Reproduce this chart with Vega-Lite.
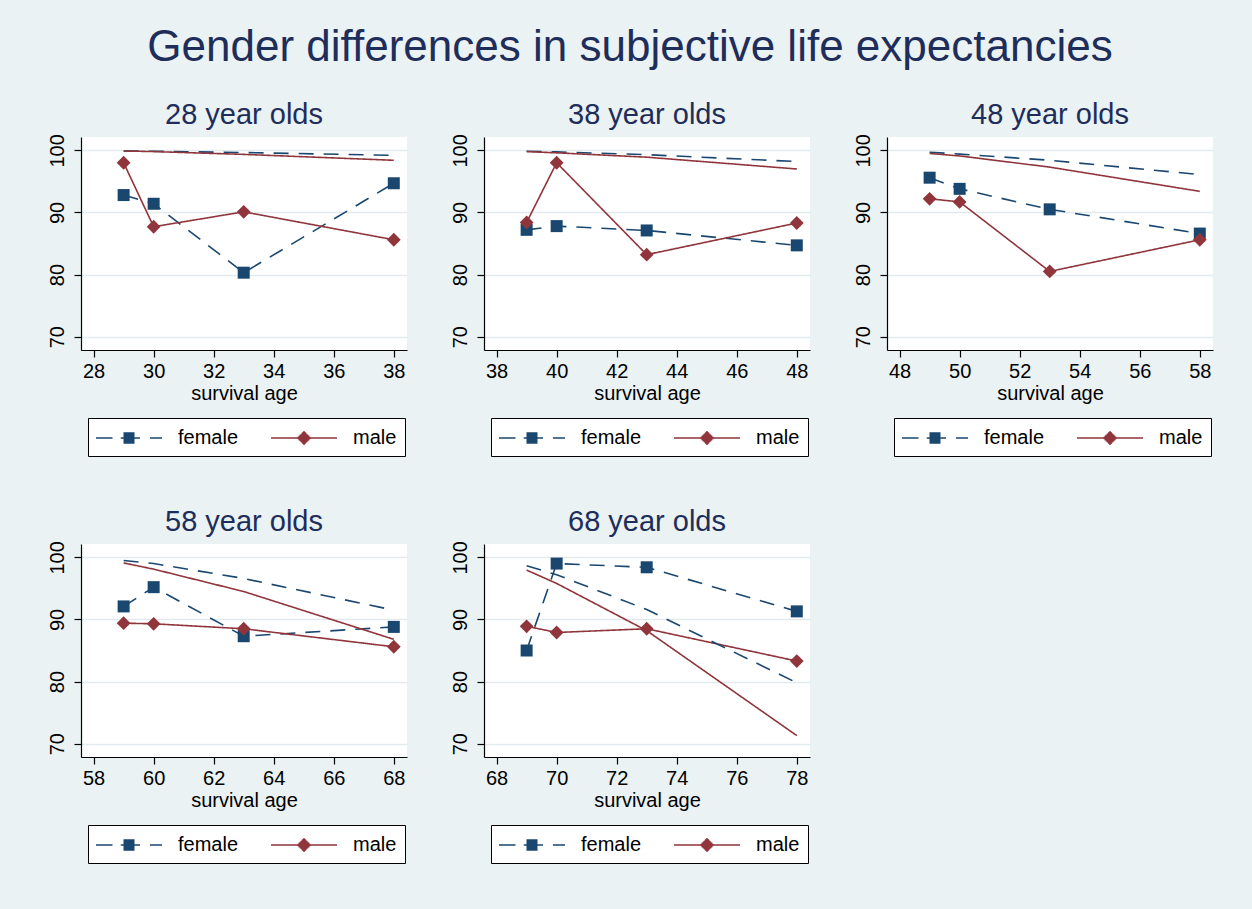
{
  "$schema": "https://vega.github.io/schema/vega-lite/v6.json",
  "padding": {"left": 47, "top": 25, "right": 39, "bottom": 46},
  "title": {"text": "Gender differences in subjective life expectancies", "fontSize": 44, "frame": "bounds", "offset": 31, "anchor": "middle"},
  "data": {"values": [
    {"c": 28, "age": 29, "sex": "female", "type": "s", "v": 92.8},
    {"c": 28, "age": 30, "sex": "female", "type": "s", "v": 91.4},
    {"c": 28, "age": 33, "sex": "female", "type": "s", "v": 80.3},
    {"c": 28, "age": 38, "sex": "female", "type": "s", "v": 94.7},
    {"c": 28, "age": 29, "sex": "male", "type": "s", "v": 98.0},
    {"c": 28, "age": 30, "sex": "male", "type": "s", "v": 87.7},
    {"c": 28, "age": 33, "sex": "male", "type": "s", "v": 90.1},
    {"c": 28, "age": 38, "sex": "male", "type": "s", "v": 85.6},
    {"c": 28, "age": 29, "sex": "female", "type": "lt", "v": 99.9},
    {"c": 28, "age": 30, "sex": "female", "type": "lt", "v": 99.85},
    {"c": 28, "age": 33, "sex": "female", "type": "lt", "v": 99.65},
    {"c": 28, "age": 38, "sex": "female", "type": "lt", "v": 99.2},
    {"c": 28, "age": 29, "sex": "male", "type": "lt", "v": 99.9},
    {"c": 28, "age": 30, "sex": "male", "type": "lt", "v": 99.8},
    {"c": 28, "age": 33, "sex": "male", "type": "lt", "v": 99.35},
    {"c": 28, "age": 38, "sex": "male", "type": "lt", "v": 98.4},
    {"c": 38, "age": 39, "sex": "female", "type": "s", "v": 87.2},
    {"c": 38, "age": 40, "sex": "female", "type": "s", "v": 87.8},
    {"c": 38, "age": 43, "sex": "female", "type": "s", "v": 87.1},
    {"c": 38, "age": 48, "sex": "female", "type": "s", "v": 84.7},
    {"c": 38, "age": 39, "sex": "male", "type": "s", "v": 88.4},
    {"c": 38, "age": 40, "sex": "male", "type": "s", "v": 98.0},
    {"c": 38, "age": 43, "sex": "male", "type": "s", "v": 83.2},
    {"c": 38, "age": 48, "sex": "male", "type": "s", "v": 88.3},
    {"c": 38, "age": 39, "sex": "female", "type": "lt", "v": 99.85},
    {"c": 38, "age": 40, "sex": "female", "type": "lt", "v": 99.75},
    {"c": 38, "age": 43, "sex": "female", "type": "lt", "v": 99.3},
    {"c": 38, "age": 48, "sex": "female", "type": "lt", "v": 98.2},
    {"c": 38, "age": 39, "sex": "male", "type": "lt", "v": 99.8},
    {"c": 38, "age": 40, "sex": "male", "type": "lt", "v": 99.6},
    {"c": 38, "age": 43, "sex": "male", "type": "lt", "v": 98.9},
    {"c": 38, "age": 48, "sex": "male", "type": "lt", "v": 97.0},
    {"c": 48, "age": 49, "sex": "female", "type": "s", "v": 95.6},
    {"c": 48, "age": 50, "sex": "female", "type": "s", "v": 93.8},
    {"c": 48, "age": 53, "sex": "female", "type": "s", "v": 90.5},
    {"c": 48, "age": 58, "sex": "female", "type": "s", "v": 86.6},
    {"c": 48, "age": 49, "sex": "male", "type": "s", "v": 92.2},
    {"c": 48, "age": 50, "sex": "male", "type": "s", "v": 91.7},
    {"c": 48, "age": 53, "sex": "male", "type": "s", "v": 80.5},
    {"c": 48, "age": 58, "sex": "male", "type": "s", "v": 85.6},
    {"c": 48, "age": 49, "sex": "female", "type": "lt", "v": 99.7},
    {"c": 48, "age": 50, "sex": "female", "type": "lt", "v": 99.4},
    {"c": 48, "age": 53, "sex": "female", "type": "lt", "v": 98.4},
    {"c": 48, "age": 58, "sex": "female", "type": "lt", "v": 96.1},
    {"c": 48, "age": 49, "sex": "male", "type": "lt", "v": 99.5},
    {"c": 48, "age": 50, "sex": "male", "type": "lt", "v": 99.1},
    {"c": 48, "age": 53, "sex": "male", "type": "lt", "v": 97.3},
    {"c": 48, "age": 58, "sex": "male", "type": "lt", "v": 93.4},
    {"c": 58, "age": 59, "sex": "female", "type": "s", "v": 92.1},
    {"c": 58, "age": 60, "sex": "female", "type": "s", "v": 95.2},
    {"c": 58, "age": 63, "sex": "female", "type": "s", "v": 87.3},
    {"c": 58, "age": 68, "sex": "female", "type": "s", "v": 88.8},
    {"c": 58, "age": 59, "sex": "male", "type": "s", "v": 89.4},
    {"c": 58, "age": 60, "sex": "male", "type": "s", "v": 89.3},
    {"c": 58, "age": 63, "sex": "male", "type": "s", "v": 88.5},
    {"c": 58, "age": 68, "sex": "male", "type": "s", "v": 85.6},
    {"c": 58, "age": 59, "sex": "female", "type": "lt", "v": 99.5},
    {"c": 58, "age": 60, "sex": "female", "type": "lt", "v": 99.0},
    {"c": 58, "age": 63, "sex": "female", "type": "lt", "v": 96.6},
    {"c": 58, "age": 68, "sex": "female", "type": "lt", "v": 91.5},
    {"c": 58, "age": 59, "sex": "male", "type": "lt", "v": 99.1},
    {"c": 58, "age": 60, "sex": "male", "type": "lt", "v": 98.1},
    {"c": 58, "age": 63, "sex": "male", "type": "lt", "v": 94.5},
    {"c": 58, "age": 68, "sex": "male", "type": "lt", "v": 86.8},
    {"c": 68, "age": 69, "sex": "female", "type": "s", "v": 85.0},
    {"c": 68, "age": 70, "sex": "female", "type": "s", "v": 99.0},
    {"c": 68, "age": 73, "sex": "female", "type": "s", "v": 98.4},
    {"c": 68, "age": 78, "sex": "female", "type": "s", "v": 91.3},
    {"c": 68, "age": 69, "sex": "male", "type": "s", "v": 88.9},
    {"c": 68, "age": 70, "sex": "male", "type": "s", "v": 87.9},
    {"c": 68, "age": 73, "sex": "male", "type": "s", "v": 88.5},
    {"c": 68, "age": 78, "sex": "male", "type": "s", "v": 83.3},
    {"c": 68, "age": 69, "sex": "female", "type": "lt", "v": 98.65},
    {"c": 68, "age": 70, "sex": "female", "type": "lt", "v": 97.2},
    {"c": 68, "age": 73, "sex": "female", "type": "lt", "v": 91.6},
    {"c": 68, "age": 78, "sex": "female", "type": "lt", "v": 79.8},
    {"c": 68, "age": 69, "sex": "male", "type": "lt", "v": 97.95},
    {"c": 68, "age": 70, "sex": "male", "type": "lt", "v": 95.8},
    {"c": 68, "age": 73, "sex": "male", "type": "lt", "v": 88.2},
    {"c": 68, "age": 78, "sex": "male", "type": "lt", "v": 71.3}
  ]},
  "bounds": "flush",
  "spacing": 407,
  "resolve": {"scale": {"color": "independent", "shape": "independent", "strokeDash": "independent"}, "legend": {"color": "independent", "shape": "independent", "strokeDash": "independent"}},
  "vconcat": [
    {
      "bounds": "flush",
      "spacing": 77,
      "resolve": {"scale": {"color": "independent", "shape": "independent", "strokeDash": "independent"}, "legend": {"color": "independent", "shape": "independent", "strokeDash": "independent"}},
      "hconcat": [
        {
          "title": {"text": "28 year olds"},
          "width": 326, "height": 213,
          "transform": [{"filter": "datum.c == 28"}],
          "encoding": {
            "x": {"field": "age", "type": "quantitative", "scale": {"domain": [27.58, 38.44], "nice": false, "zero": false}, "axis": {"values": [28, 30, 32, 34, 36, 38], "title": "survival age"}},
            "y": {"field": "v", "type": "quantitative", "scale": {"domain": [67.85, 102.15], "nice": false, "zero": false}, "axis": {"values": [70, 80, 90, 100], "title": null}}
          },
          "resolve": {"scale": {"color": "independent", "shape": "independent"}},
          "layer": [
            {"mark": {"type": "line", "strokeWidth": 1.6}, "encoding": {
              "color": {"field": "sex", "type": "nominal", "scale": {"domain": ["female", "male"], "range": ["#1a476f", "#90353b"]}, "legend": null},
              "strokeDash": {"field": "sex", "type": "nominal", "scale": {"domain": ["female", "male"], "range": [[15, 10], [1, 0]]}, "legend": null},
              "detail": {"field": "type"}}},
            {"transform": [{"filter": "datum.type == 's'"}], "mark": {"type": "point", "filled": true, "opacity": 1, "size": 144}, "encoding": {
              "color": {"field": "sex", "type": "nominal", "scale": {"domain": ["female", "male"], "range": ["#1a476f", "#90353b"]}, "legend": null},
              "shape": {"field": "sex", "type": "nominal", "scale": {"domain": ["female", "male"], "range": ["square", "M-1.15,0L0,-1.15L1.15,0L0,1.15Z"]}, "legend": null}}},
            {"transform": [{"filter": "datum.type == 's'"}], "mark": {"type": "point", "filled": false, "opacity": 0}, "encoding": {
              "color": {"field": "sex", "type": "nominal", "scale": {"domain": ["female", "male"], "range": ["#1a476f", "#90353b"]}, "legend": {"orient": "none", "legendX": 7, "legendY": 281}},
              "shape": {"field": "sex", "type": "nominal", "scale": {"domain": ["female", "male"], "range": ["M-3,0H-1.5M-0.75,0H1M1.9,0H3M-0.5,-0.45H0.5M-0.5,-0.35H0.5M-0.5,-0.25H0.5M-0.5,-0.15H0.5M-0.5,-0.05H0.5M-0.5,0.05H0.5M-0.5,0.15H0.5M-0.5,0.25H0.5M-0.5,0.35H0.5M-0.5,0.45H0.5", "M-3,0H3M-0.09,-0.55H0.09M-0.19,-0.45H0.19M-0.29,-0.35H0.29M-0.39,-0.25H0.39M-0.49,-0.15H0.49M-0.59,-0.05H0.59M-0.59,0.05H0.59M-0.49,0.15H0.49M-0.39,0.25H0.39M-0.29,0.35H0.29M-0.19,0.45H0.19M-0.09,0.55H0.09"]}, "legend": {"orient": "none", "legendX": 7, "legendY": 281}}}}
          ]
        },
        {
          "title": {"text": "38 year olds"},
          "width": 326, "height": 213,
          "transform": [{"filter": "datum.c == 38"}],
          "encoding": {
            "x": {"field": "age", "type": "quantitative", "scale": {"domain": [37.58, 48.44], "nice": false, "zero": false}, "axis": {"values": [38, 40, 42, 44, 46, 48], "title": "survival age"}},
            "y": {"field": "v", "type": "quantitative", "scale": {"domain": [67.85, 102.15], "nice": false, "zero": false}, "axis": {"values": [70, 80, 90, 100], "title": null}}
          },
          "resolve": {"scale": {"color": "independent", "shape": "independent"}},
          "layer": [
            {"mark": {"type": "line", "strokeWidth": 1.6}, "encoding": {
              "color": {"field": "sex", "type": "nominal", "scale": {"domain": ["female", "male"], "range": ["#1a476f", "#90353b"]}, "legend": null},
              "strokeDash": {"field": "sex", "type": "nominal", "scale": {"domain": ["female", "male"], "range": [[15, 10], [1, 0]]}, "legend": null},
              "detail": {"field": "type"}}},
            {"transform": [{"filter": "datum.type == 's'"}], "mark": {"type": "point", "filled": true, "opacity": 1, "size": 144}, "encoding": {
              "color": {"field": "sex", "type": "nominal", "scale": {"domain": ["female", "male"], "range": ["#1a476f", "#90353b"]}, "legend": null},
              "shape": {"field": "sex", "type": "nominal", "scale": {"domain": ["female", "male"], "range": ["square", "M-1.15,0L0,-1.15L1.15,0L0,1.15Z"]}, "legend": null}}},
            {"transform": [{"filter": "datum.type == 's'"}], "mark": {"type": "point", "filled": false, "opacity": 0}, "encoding": {
              "color": {"field": "sex", "type": "nominal", "scale": {"domain": ["female", "male"], "range": ["#1a476f", "#90353b"]}, "legend": {"orient": "none", "legendX": 7, "legendY": 281}},
              "shape": {"field": "sex", "type": "nominal", "scale": {"domain": ["female", "male"], "range": ["M-3,0H-1.5M-0.75,0H1M1.9,0H3M-0.5,-0.45H0.5M-0.5,-0.35H0.5M-0.5,-0.25H0.5M-0.5,-0.15H0.5M-0.5,-0.05H0.5M-0.5,0.05H0.5M-0.5,0.15H0.5M-0.5,0.25H0.5M-0.5,0.35H0.5M-0.5,0.45H0.5", "M-3,0H3M-0.09,-0.55H0.09M-0.19,-0.45H0.19M-0.29,-0.35H0.29M-0.39,-0.25H0.39M-0.49,-0.15H0.49M-0.59,-0.05H0.59M-0.59,0.05H0.59M-0.49,0.15H0.49M-0.39,0.25H0.39M-0.29,0.35H0.29M-0.19,0.45H0.19M-0.09,0.55H0.09"]}, "legend": {"orient": "none", "legendX": 7, "legendY": 281}}}}
          ]
        },
        {
          "title": {"text": "48 year olds"},
          "width": 326, "height": 213,
          "transform": [{"filter": "datum.c == 48"}],
          "encoding": {
            "x": {"field": "age", "type": "quantitative", "scale": {"domain": [47.58, 58.44], "nice": false, "zero": false}, "axis": {"values": [48, 50, 52, 54, 56, 58], "title": "survival age"}},
            "y": {"field": "v", "type": "quantitative", "scale": {"domain": [67.85, 102.15], "nice": false, "zero": false}, "axis": {"values": [70, 80, 90, 100], "title": null}}
          },
          "resolve": {"scale": {"color": "independent", "shape": "independent"}},
          "layer": [
            {"mark": {"type": "line", "strokeWidth": 1.6}, "encoding": {
              "color": {"field": "sex", "type": "nominal", "scale": {"domain": ["female", "male"], "range": ["#1a476f", "#90353b"]}, "legend": null},
              "strokeDash": {"field": "sex", "type": "nominal", "scale": {"domain": ["female", "male"], "range": [[15, 10], [1, 0]]}, "legend": null},
              "detail": {"field": "type"}}},
            {"transform": [{"filter": "datum.type == 's'"}], "mark": {"type": "point", "filled": true, "opacity": 1, "size": 144}, "encoding": {
              "color": {"field": "sex", "type": "nominal", "scale": {"domain": ["female", "male"], "range": ["#1a476f", "#90353b"]}, "legend": null},
              "shape": {"field": "sex", "type": "nominal", "scale": {"domain": ["female", "male"], "range": ["square", "M-1.15,0L0,-1.15L1.15,0L0,1.15Z"]}, "legend": null}}},
            {"transform": [{"filter": "datum.type == 's'"}], "mark": {"type": "point", "filled": false, "opacity": 0}, "encoding": {
              "color": {"field": "sex", "type": "nominal", "scale": {"domain": ["female", "male"], "range": ["#1a476f", "#90353b"]}, "legend": {"orient": "none", "legendX": 7, "legendY": 281}},
              "shape": {"field": "sex", "type": "nominal", "scale": {"domain": ["female", "male"], "range": ["M-3,0H-1.5M-0.75,0H1M1.9,0H3M-0.5,-0.45H0.5M-0.5,-0.35H0.5M-0.5,-0.25H0.5M-0.5,-0.15H0.5M-0.5,-0.05H0.5M-0.5,0.05H0.5M-0.5,0.15H0.5M-0.5,0.25H0.5M-0.5,0.35H0.5M-0.5,0.45H0.5", "M-3,0H3M-0.09,-0.55H0.09M-0.19,-0.45H0.19M-0.29,-0.35H0.29M-0.39,-0.25H0.39M-0.49,-0.15H0.49M-0.59,-0.05H0.59M-0.59,0.05H0.59M-0.49,0.15H0.49M-0.39,0.25H0.39M-0.29,0.35H0.29M-0.19,0.45H0.19M-0.09,0.55H0.09"]}, "legend": {"orient": "none", "legendX": 7, "legendY": 281}}}}
          ]
        }
      ]
    },
    {
      "bounds": "flush",
      "spacing": 77,
      "resolve": {"scale": {"color": "independent", "shape": "independent", "strokeDash": "independent"}, "legend": {"color": "independent", "shape": "independent", "strokeDash": "independent"}},
      "hconcat": [
        {
          "title": {"text": "58 year olds"},
          "width": 326, "height": 213,
          "transform": [{"filter": "datum.c == 58"}],
          "encoding": {
            "x": {"field": "age", "type": "quantitative", "scale": {"domain": [57.58, 68.44], "nice": false, "zero": false}, "axis": {"values": [58, 60, 62, 64, 66, 68], "title": "survival age"}},
            "y": {"field": "v", "type": "quantitative", "scale": {"domain": [67.85, 102.15], "nice": false, "zero": false}, "axis": {"values": [70, 80, 90, 100], "title": null}}
          },
          "resolve": {"scale": {"color": "independent", "shape": "independent"}},
          "layer": [
            {"mark": {"type": "line", "strokeWidth": 1.6}, "encoding": {
              "color": {"field": "sex", "type": "nominal", "scale": {"domain": ["female", "male"], "range": ["#1a476f", "#90353b"]}, "legend": null},
              "strokeDash": {"field": "sex", "type": "nominal", "scale": {"domain": ["female", "male"], "range": [[15, 10], [1, 0]]}, "legend": null},
              "detail": {"field": "type"}}},
            {"transform": [{"filter": "datum.type == 's'"}], "mark": {"type": "point", "filled": true, "opacity": 1, "size": 144}, "encoding": {
              "color": {"field": "sex", "type": "nominal", "scale": {"domain": ["female", "male"], "range": ["#1a476f", "#90353b"]}, "legend": null},
              "shape": {"field": "sex", "type": "nominal", "scale": {"domain": ["female", "male"], "range": ["square", "M-1.15,0L0,-1.15L1.15,0L0,1.15Z"]}, "legend": null}}},
            {"transform": [{"filter": "datum.type == 's'"}], "mark": {"type": "point", "filled": false, "opacity": 0}, "encoding": {
              "color": {"field": "sex", "type": "nominal", "scale": {"domain": ["female", "male"], "range": ["#1a476f", "#90353b"]}, "legend": {"orient": "none", "legendX": 7, "legendY": 281}},
              "shape": {"field": "sex", "type": "nominal", "scale": {"domain": ["female", "male"], "range": ["M-3,0H-1.5M-0.75,0H1M1.9,0H3M-0.5,-0.45H0.5M-0.5,-0.35H0.5M-0.5,-0.25H0.5M-0.5,-0.15H0.5M-0.5,-0.05H0.5M-0.5,0.05H0.5M-0.5,0.15H0.5M-0.5,0.25H0.5M-0.5,0.35H0.5M-0.5,0.45H0.5", "M-3,0H3M-0.09,-0.55H0.09M-0.19,-0.45H0.19M-0.29,-0.35H0.29M-0.39,-0.25H0.39M-0.49,-0.15H0.49M-0.59,-0.05H0.59M-0.59,0.05H0.59M-0.49,0.15H0.49M-0.39,0.25H0.39M-0.29,0.35H0.29M-0.19,0.45H0.19M-0.09,0.55H0.09"]}, "legend": {"orient": "none", "legendX": 7, "legendY": 281}}}}
          ]
        },
        {
          "title": {"text": "68 year olds"},
          "width": 326, "height": 213,
          "transform": [{"filter": "datum.c == 68"}],
          "encoding": {
            "x": {"field": "age", "type": "quantitative", "scale": {"domain": [67.58, 78.44], "nice": false, "zero": false}, "axis": {"values": [68, 70, 72, 74, 76, 78], "title": "survival age"}},
            "y": {"field": "v", "type": "quantitative", "scale": {"domain": [67.85, 102.15], "nice": false, "zero": false}, "axis": {"values": [70, 80, 90, 100], "title": null}}
          },
          "resolve": {"scale": {"color": "independent", "shape": "independent"}},
          "layer": [
            {"mark": {"type": "line", "strokeWidth": 1.6}, "encoding": {
              "color": {"field": "sex", "type": "nominal", "scale": {"domain": ["female", "male"], "range": ["#1a476f", "#90353b"]}, "legend": null},
              "strokeDash": {"field": "sex", "type": "nominal", "scale": {"domain": ["female", "male"], "range": [[15, 10], [1, 0]]}, "legend": null},
              "detail": {"field": "type"}}},
            {"transform": [{"filter": "datum.type == 's'"}], "mark": {"type": "point", "filled": true, "opacity": 1, "size": 144}, "encoding": {
              "color": {"field": "sex", "type": "nominal", "scale": {"domain": ["female", "male"], "range": ["#1a476f", "#90353b"]}, "legend": null},
              "shape": {"field": "sex", "type": "nominal", "scale": {"domain": ["female", "male"], "range": ["square", "M-1.15,0L0,-1.15L1.15,0L0,1.15Z"]}, "legend": null}}},
            {"transform": [{"filter": "datum.type == 's'"}], "mark": {"type": "point", "filled": false, "opacity": 0}, "encoding": {
              "color": {"field": "sex", "type": "nominal", "scale": {"domain": ["female", "male"], "range": ["#1a476f", "#90353b"]}, "legend": {"orient": "none", "legendX": 7, "legendY": 281}},
              "shape": {"field": "sex", "type": "nominal", "scale": {"domain": ["female", "male"], "range": ["M-3,0H-1.5M-0.75,0H1M1.9,0H3M-0.5,-0.45H0.5M-0.5,-0.35H0.5M-0.5,-0.25H0.5M-0.5,-0.15H0.5M-0.5,-0.05H0.5M-0.5,0.05H0.5M-0.5,0.15H0.5M-0.5,0.25H0.5M-0.5,0.35H0.5M-0.5,0.45H0.5", "M-3,0H3M-0.09,-0.55H0.09M-0.19,-0.45H0.19M-0.29,-0.35H0.29M-0.39,-0.25H0.39M-0.49,-0.15H0.49M-0.59,-0.05H0.59M-0.59,0.05H0.59M-0.49,0.15H0.49M-0.39,0.25H0.39M-0.29,0.35H0.29M-0.19,0.45H0.19M-0.09,0.55H0.09"]}, "legend": {"orient": "none", "legendX": 7, "legendY": 281}}}}
          ]
        }
      ]
    }
  ],
  "config": {
    "background": "#eaf2f3",
    "font": "Liberation Sans",
    "view": {"fill": "white", "stroke": null},
    "title": {"fontSize": 29, "fontWeight": "normal", "color": "#1e2d5a", "anchor": "middle", "frame": "group", "baseline": "alphabetic", "offset": 4, "font": "Liberation Sans"},
    "axis": {"domainColor": "black", "domainWidth": 1.2, "tickColor": "black", "tickSize": 7, "tickWidth": 1.2, "labelColor": "black", "labelFontSize": 20, "labelFont": "Liberation Sans", "titleFontSize": 20, "titleFontWeight": "normal", "titleColor": "black", "titleFont": "Liberation Sans", "gridColor": "#e1ebed", "gridWidth": 1.5, "labelFlush": false, "labelOverlap": false},
    "axisX": {"grid": false, "labelPadding": 4, "titlePadding": 2, "labelAngle": 0},
    "axisY": {"grid": true, "labelAngle": -90, "labelAlign": "center", "labelBaseline": "alphabetic", "labelPadding": 11},
    "legend": {"direction": "horizontal", "title": null, "padding": 8, "strokeColor": "black", "fillColor": "white", "labelFontSize": 20, "labelColor": "black", "labelFont": "Liberation Sans", "symbolSize": 484, "symbolStrokeWidth": 1.5, "symbolOffset": 21, "labelOffset": 37, "columnPadding": 29, "symbolOpacity": 1}
  }
}
